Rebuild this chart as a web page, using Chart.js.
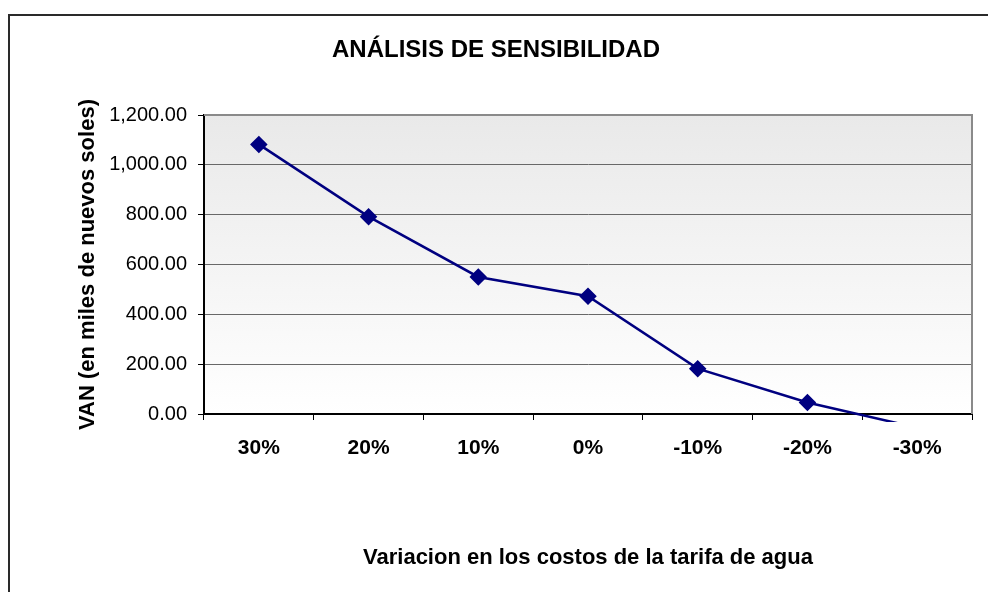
<!DOCTYPE html>
<html>
<head>
<meta charset="utf-8">
<script src="https://cdn.jsdelivr.net/npm/chart.js@4/dist/chart.umd.min.js"></script>
<style>
html,body{margin:0;padding:0;background:#fff}
#wrap{width:988px;height:592px}
</style>
</head>
<body>
<div id="wrap"><canvas id="chart" width="988" height="592"></canvas></div>
<script>
// data
let labels=["30%","20%","10%","0%","-10%","-20%","-30%"]
let van=[1082,792,550,473,182,46,-55]
let yTicks=[0,200,400,600,800,1000,1200]
let chartTitle="ANÁLISIS DE SENSIBILIDAD"

let fam='"Liberation Sans", Arial, sans-serif'

// outer frame, plot background / border, and the title (sits off-centre in the original)
let frame={
id:"frame",
beforeDraw(c){
let g=c.ctx
let a=c.chartArea
g.save()
g.strokeStyle="#2a2a2a"
g.lineWidth=2
g.beginPath()
g.moveTo(9,592)
g.lineTo(9,15)
g.lineTo(988,15)
g.stroke()
let grad=g.createLinearGradient(0,a.top,0,a.bottom)
grad.addColorStop(0,"#e9e9e9")
grad.addColorStop(1,"#ffffff")
g.fillStyle=grad
g.fillRect(a.left,a.top,a.right-a.left,a.bottom-a.top)
g.restore()
},
afterDatasetsDraw(c){
let g=c.ctx
let a=c.chartArea
g.save()
g.strokeStyle="#8a8a8a"
g.lineWidth=2
g.beginPath()
g.moveTo(a.left,a.top)
g.lineTo(a.right,a.top)
g.lineTo(a.right,a.bottom)
g.stroke()
g.fillStyle="#000"
g.font="bold 24px "+fam
g.textAlign="center"
g.textBaseline="middle"
g.fillText(chartTitle,496,50)
g.restore()
}
}

new Chart(document.getElementById("chart"),{
type:"line",
data:{
labels:labels,
datasets:[{
data:van,
borderColor:"#000080",
backgroundColor:"#000080",
borderWidth:2.5,
pointStyle:"rectRot",
pointRadius:ctx=>ctx.raw<0?0:7,
pointHoverRadius:7,
tension:0,
clip:{left:5,top:5,right:5,bottom:8}
}]
},
options:{
responsive:false,
animation:false,
devicePixelRatio:1,
layout:{padding:{left:0,right:16,top:115,bottom:0}},
plugins:{
legend:{display:false},
tooltip:{enabled:false},
title:{display:false}
},
scales:{
x:{
offset:true,
grid:{drawOnChartArea:false,drawTicks:true,tickLength:6,tickColor:"#000",offset:true},
border:{color:"#000",width:2},
ticks:{color:"#000",font:{family:fam,size:21,weight:"bold"},padding:16,maxRotation:0},
title:{display:true,text:"Variacion en los costos de la tarifa de agua",color:"#000",
font:{family:fam,size:22,weight:"bold"},padding:{top:21,bottom:21}},
afterFit(s){s.height=178}
},
y:{
min:0,
max:1200,
afterBuildTicks(s){s.ticks=yTicks.map(v=>({value:v}))},
grid:{color:"#686868",lineWidth:1,tickLength:6,tickColor:"#000"},
border:{color:"#000",width:2},
ticks:{color:"#000",font:{family:fam,size:20},padding:11,
callback:v=>v.toLocaleString("en-US",{minimumFractionDigits:2,maximumFractionDigits:2})},
title:{display:true,text:"VAN (en miles de nuevos soles)",color:"#000",
font:{family:fam,size:22,weight:"bold"},padding:{top:75,bottom:0}},
afterFit(s){s.width=204}
}
}
},
plugins:[frame]
})
</script>
</body>
</html>
